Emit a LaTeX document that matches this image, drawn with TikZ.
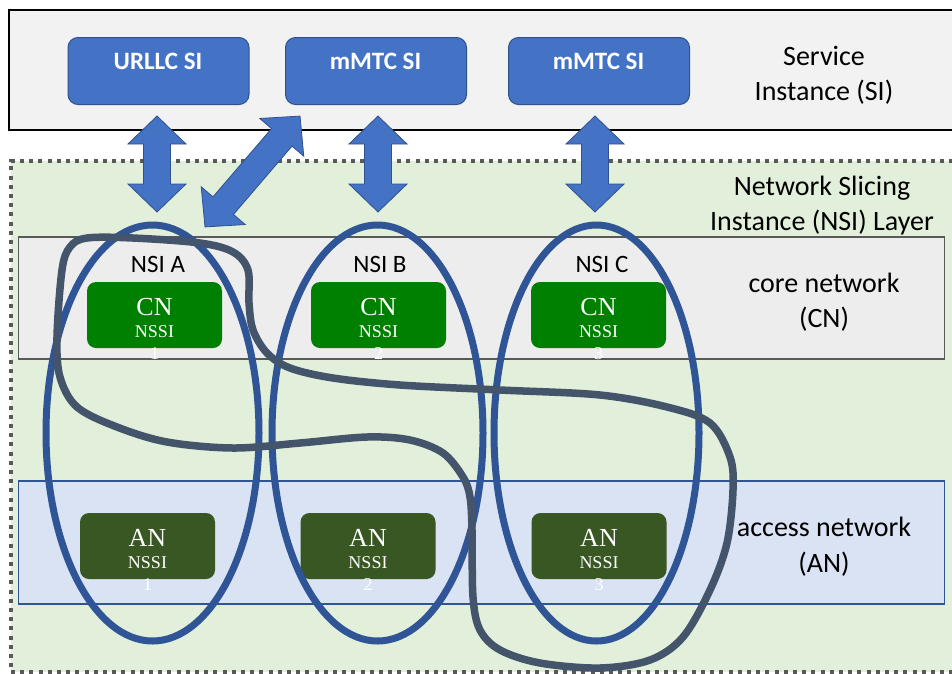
\documentclass[tikz,border=0pt]{standalone}
\usepackage{fontspec}
\setmainfont{Carlito}
\newfontfamily\boxserif{Liberation Serif}
\usetikzlibrary{shapes.geometric}
\definecolor{sigray}{HTML}{F2F2F2}
\definecolor{siblue}{HTML}{4472C4}
\definecolor{siedge}{HTML}{2F528F}
\definecolor{nsigreen}{HTML}{E2EFDA}
\definecolor{dotgray}{HTML}{595959}
\definecolor{cnband}{HTML}{EDEDED}
\definecolor{anband}{HTML}{DAE3F3}
\definecolor{anedge}{HTML}{2F5597}
\definecolor{cngreen}{HTML}{008000}
\definecolor{angreen}{HTML}{385723}
\definecolor{ellblue}{HTML}{2F5597}
\definecolor{loopgray}{HTML}{44546A}
\newcommand{\dblarrow}[4]{%
  \begin{scope}[shift={(#1,#2)},rotate=#3]
    \draw[blockarrow] ({-#4/2},0) -- ({-#4/2+28},29) -- ({-#4/2+28},13.5) -- ({#4/2-28},13.5) -- ({#4/2-28},29) -- ({#4/2},0) -- ({#4/2-28},-29) -- ({#4/2-28},-13.5) -- ({-#4/2+28},-13.5) -- ({-#4/2+28},-29) -- cycle;
  \end{scope}}
\begin{document}
\begin{tikzpicture}[x=1pt,y=-1pt,
  sibox/.style={rectangle, rounded corners=10pt, fill=siblue, draw=siedge, line width=1pt, minimum width=181pt, minimum height=67pt},
  sitext/.style={anchor=base, text=white, font=\fontsize{25}{30}\selectfont\bfseries, inner sep=0pt},
  lbl/.style={anchor=base, font=\fontsize{28}{34}\selectfont, inner sep=0pt},
  nsilbl/.style={anchor=base, font=\fontsize{25}{30}\selectfont, inner sep=0pt},
  cnbox/.style={rectangle, rounded corners=9pt, fill=cngreen, minimum width=135pt, minimum height=66pt},
  anbox/.style={rectangle, rounded corners=9pt, fill=angreen, minimum width=135pt, minimum height=66pt},
  bigt/.style={anchor=base, text=white, font=\boxserif\fontsize{26}{30}\selectfont, inner sep=0pt},
  smallt/.style={anchor=base, text=white, font=\boxserif\fontsize{18}{22}\selectfont, inner sep=0pt},
  nsiell/.style={ellipse, draw=ellblue, line width=7pt, minimum width=210pt, minimum height=416pt, inner sep=0pt},
  blockarrow/.style={fill=siblue, draw=siedge, line width=0.8pt, line join=miter}]
\useasboundingbox (0,0) rectangle (952,673);
\clip (0,0) rectangle (952,673);
% service instance layer
\node[rectangle, fill=sigray, draw=black, line width=1.5pt, minimum width=960pt, minimum height=120pt, anchor=north west] (silayer) at (8,9) {};
\node[sibox, anchor=north west] (urllc) at (67.5,37) {};
\node[sibox, anchor=north west] (mmtc1) at (285,37) {};
\node[sibox, anchor=north west] (mmtc2) at (508,37) {};
\node[sitext] (urllct) at (158,69) {URLLC SI};
\node[sitext] (mmtc1t) at (375.5,69) {mMTC SI};
\node[sitext] (mmtc2t) at (598.5,69) {mMTC SI};
\node[lbl] (sil1) at (824,65) {Service};
\node[lbl] (sil2) at (824,100) {Instance (SI)};
% NSI layer
\node[rectangle, fill=nsigreen, draw=dotgray, line width=4pt, dash pattern=on 4pt off 5.2pt, minimum width=970pt, minimum height=511pt, anchor=north west] (nsilayer) at (9,159) {};
\node[lbl] (nsil1) at (822,195) {Network Slicing};
\node[lbl] (nsil2) at (822,230) {Instance (NSI) Layer};
% core network band
\node[rectangle, fill=cnband, draw=dotgray, line width=1.5pt, minimum width=926pt, minimum height=122pt, anchor=north west] (cnlayer) at (17.5,236) {};
\node[lbl] (cnl1) at (824,292) {core network};
\node[lbl] (cnl2) at (824,327) {(CN)};
\node[nsilbl] (nsiAt) at (158,272) {NSI A};
\node[nsilbl] (nsiBt) at (380,272) {NSI B};
\node[nsilbl] (nsiCt) at (602,272) {NSI C};
% access network band
\node[rectangle, fill=anband, draw=anedge, line width=1.5pt, minimum width=926pt, minimum height=123pt, anchor=north west] (anlayer) at (17.5,480) {};
\node[lbl] (anl1) at (824,536) {access network};
\node[lbl] (anl2) at (824,572) {(AN)};
% CN NSSIs
\foreach \n/\cx in {1/154.5, 2/378.5, 3/598.5}{
  \node[cnbox] (cn\n) at (\cx,315) {};
  \node[bigt] (cn\n a) at (\cx,315) {CN};
  \node[smallt] (cn\n b) at (\cx,337) {NSSI};
  \node[smallt] (cn\n c) at (\cx,359) {\n};
}
% AN NSSIs
\foreach \n/\cx in {1/147.5, 2/368, 3/599}{
  \node[anbox] (an\n) at (\cx,546) {};
  \node[bigt] (an\n a) at (\cx,546) {AN};
  \node[smallt] (an\n b) at (\cx,568) {NSSI};
  \node[smallt] (an\n c) at (\cx,590) {\n};
}
% NSI ellipses
\node[nsiell, minimum width=213pt] (nsiA) at (152.5,433) {};
\node[nsiell, minimum width=211pt] (nsiB) at (377.5,433) {};
\node[nsiell, minimum width=205pt] (nsiC) at (596.5,433) {};
% shared slice loop
\draw[loopgray, line width=7.5pt] plot[smooth cycle, tension=0.55] coordinates {
 (87,238) (133,238) (200,243) (233,252) (248,270) (249,303) (253,330) (267,353) (290,368) (333,378) (400,385) (500,390) (600,395) (667,407) (710,423) (730,457) (733,490) (727,543) (710,590) (683,637) (650,660) (600,668) (540,663) (500,650) (480,630) (473,597) (472,530) (470,497) (463,477) (443,453) (410,440) (367,437) (300,443) (233,448) (167,442) (117,427) (77,407) (60,377) (57,337) (62,270) (70,247)};
% block arrows
\dblarrow{157}{164}{90}{96}
\dblarrow{378}{164}{90}{96}
\dblarrow{595}{164}{90}{96}
\dblarrow{252.5}{171.5}{49.4}{146}
\end{tikzpicture}
\end{document}
